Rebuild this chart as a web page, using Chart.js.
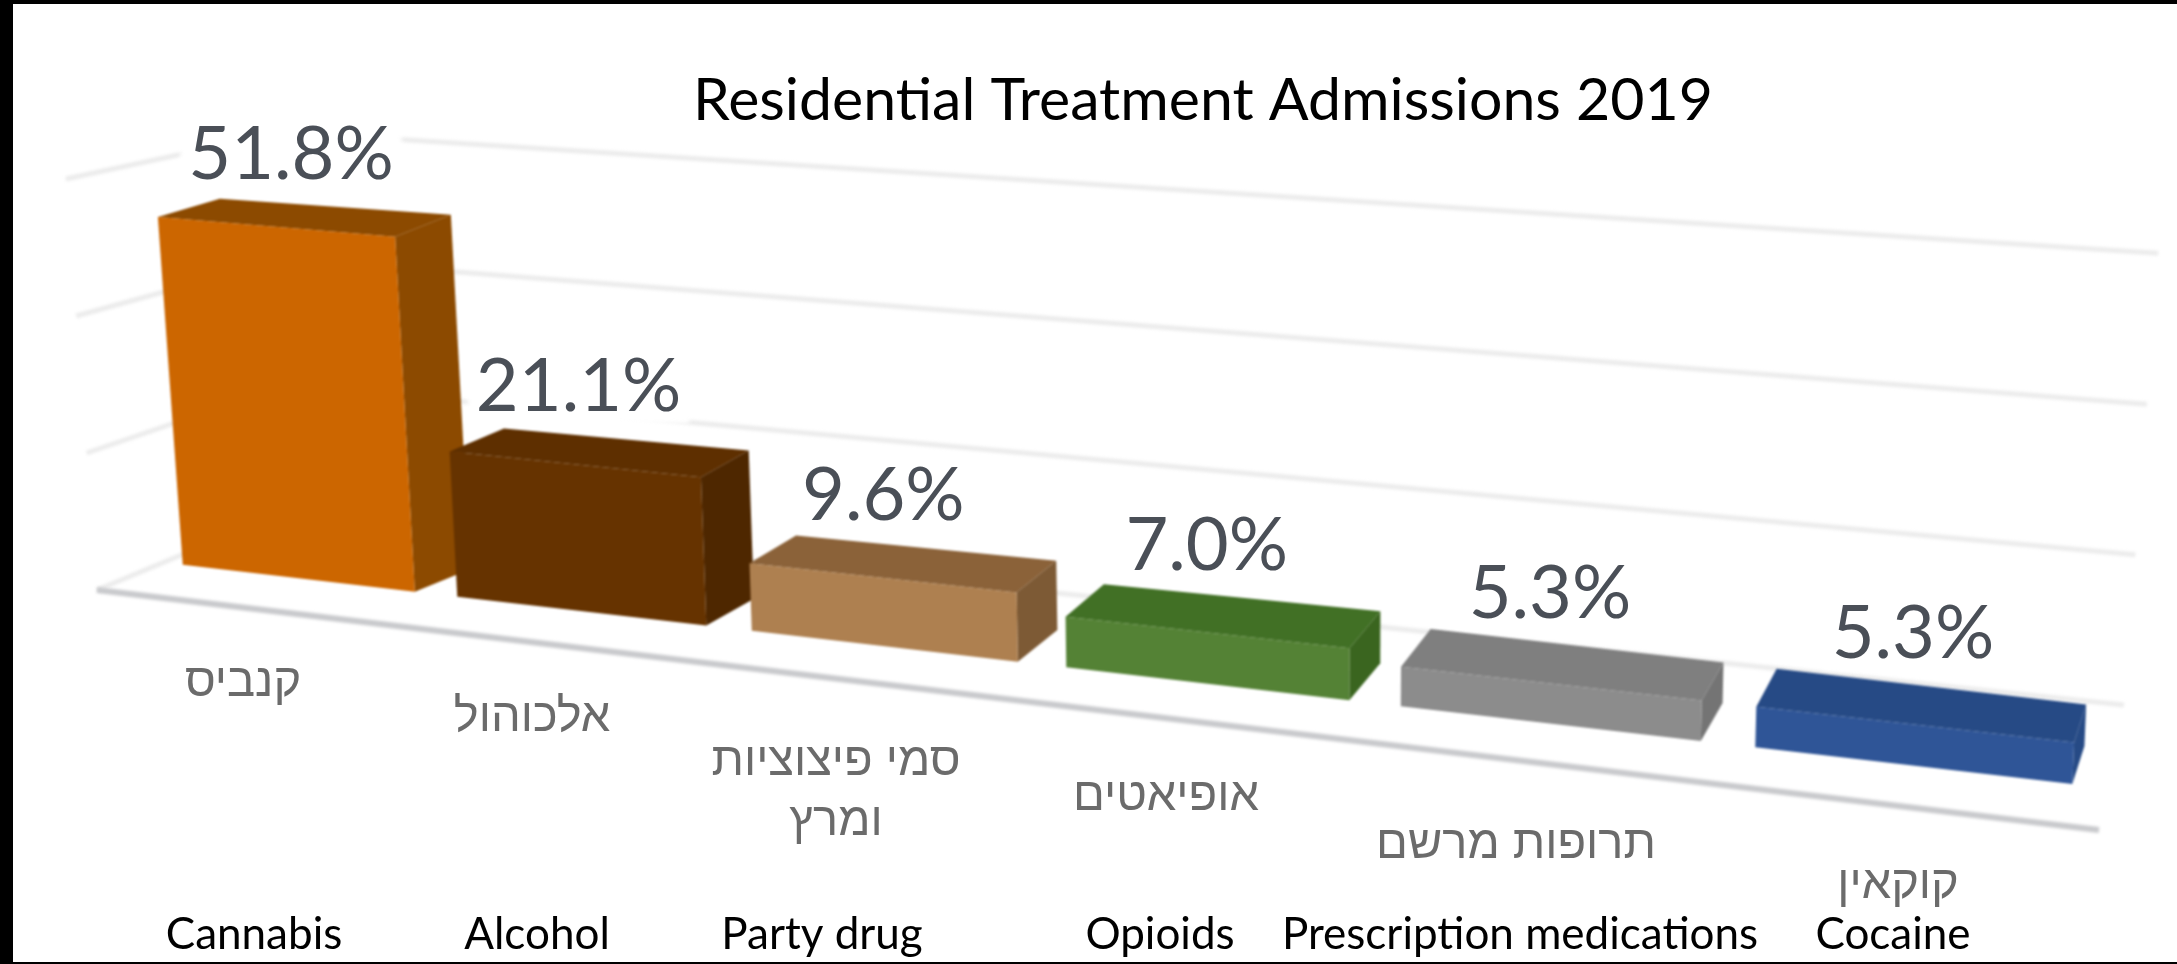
<!DOCTYPE html>
<html>
<head>
<meta charset="utf-8">
<title>Residential Treatment Admissions 2019</title>
<script src="https://cdn.jsdelivr.net/npm/chart.js@4"></script>
<style>
    html, body { margin: 0; padding: 0; background: #fff; overflow: hidden; }
    #frame {
        position: absolute; left: 0; top: 0; width: 2177px; height: 964px; box-sizing: border-box;
        border-left: 13px solid #000; border-top: 4px solid #000; border-bottom: 2px solid #000;
        pointer-events: none;
    }
</style>
</head>
<body>
<canvas id="admissionsChart" width="2177" height="964" style="display:block"></canvas>
<div id="frame"></div>
<script>
// Chart data
const categories = ['Cannabis', 'Alcohol', 'Party drug', 'Opioids', 'Prescription medications', 'Cocaine'];
const hebrewLabels = [['קנביס'], ['אלכוהול'], ['סמי פיצוציות', 'ומרץ'], ['אופיאטים'], ['תרופות מרשם'], ['קוקאין']];
const admissions = [51.8, 21.1, 9.6, 7.0, 5.3, 5.3];
const gridStep = 20;
const axisMax = 60;

// Face colours
const frontColors = ['#cc6600', '#663300', '#ae8050', '#548235', '#8c8c8c', '#2f5597'];
const topColors = ['#8c4a00', '#5e2f00', '#8b6239', '#417025', '#7f7f7f', '#264a85'];
const sideColors = ['#8c4a00', '#4e2700', '#7d5a35', '#3a651f', '#747474', '#264a85'];

// Where the axis texts sit
const englishCentres = [254, 537, 822, 1160, 1520, 1893];
const hebrewCentres = [243, 532, 836, 1166, 1516, 1898];
const hebrewRows = [683, 718, 762, 797, 845, 885];
const englishRow = 935;
const hebrewLineGap = 60;

// Perspective: turns chart pixels into the tilted front plane of the bars
function frontPoint(chart, px, py) {
    const xs = chart.scales.x, ys = chart.scales.y;
    const t = (px - xs.getPixelForTick(0)) / (xs.getPixelForTick(1) - xs.getPixelForTick(0));
    const v = ys.getValueForPixel(py);
    const floorX = 297 + 273 * t + 10 * t * t;
    const floorY = 565 + 0.116 * (floorX - 184);
    return {
        x: floorX + v * 0.00043 * (floorX - 1300),
        y: floorY - 6.85 * v - 0.0006 * v * (floorX - 411)
    };
}

// Same point pushed back by the depth of the bar
function backPoint(p) {
    return {
        x: p.x + 66 - 0.026 * p.x,
        y: p.y - Math.min(38, 16 + 0.0155 * p.x)
    };
}

// Back wall gridline height at a screen x
function wallY(x, v) {
    return 593 + (0.105 - 0.00067 * v) * (x - 1057) - 6.85 * v;
}

function face(ctx, points, color) {
    ctx.fillStyle = color;
    ctx.beginPath();
    points.forEach((p, i) => i ? ctx.lineTo(p.x, p.y) : ctx.moveTo(p.x, p.y));
    ctx.closePath();
    ctx.fill();
}

function drawGrid(chart, ctx) {
    ctx.save();
    ctx.filter = 'blur(1.5px)';
    ctx.strokeStyle = '#ececec';
    ctx.lineWidth = 5;
    const cornerX = 285;
    chart.scales.y.ticks.forEach(tick => {
        const v = tick.value;
        const rightX = 2124 + 0.57 * v;
        ctx.beginPath();
        ctx.moveTo(97 - 0.52 * v, 590 - 6.85 * v);
        ctx.lineTo(cornerX, wallY(cornerX, v));
        ctx.lineTo(rightX, wallY(rightX, v));
        ctx.stroke();
    });
    // front edge of the floor
    ctx.strokeStyle = '#c8c9cc';
    ctx.lineWidth = 6;
    ctx.beginPath();
    ctx.moveTo(97, 590);
    ctx.lineTo(2099, 830);
    ctx.stroke();
    ctx.restore();
}

function barCorners(chart, bar) {
    const half = bar.width / 2;
    const fbl = frontPoint(chart, bar.x - half, bar.base);
    const fbr = frontPoint(chart, bar.x + half, bar.base);
    const ftl = frontPoint(chart, bar.x - half, bar.y);
    const ftr = frontPoint(chart, bar.x + half, bar.y);
    return { fbl, fbr, ftl, ftr, btl: backPoint(ftl), btr: backPoint(ftr), bbr: backPoint(fbr) };
}

const labelFont = '74px Lato';

const bars3d = {
    id: 'bars3d',
    beforeDatasetsDraw(chart) {
        const ctx = chart.ctx;
        const bars = chart.getDatasetMeta(0).data;
        drawGrid(chart, ctx);

        // value labels hide the wall lines behind them
        ctx.save();
        ctx.font = labelFont;
        ctx.textAlign = 'center';
        ctx.textBaseline = 'middle';
        const labelSpots = bars.map((bar, i) => {
            const c = barCorners(chart, bar);
            return { x: (c.fbl.x + c.fbr.x) / 2 - 0.15 * admissions[i], y: (c.btl.y + c.btr.y) / 2 - 52 };
        });
        ctx.filter = 'blur(2px)';
        ctx.fillStyle = '#fff';
        labelSpots.forEach((s, i) => {
            const w = ctx.measureText(admissions[i].toFixed(1) + '%').width;
            ctx.fillRect(s.x - w / 2 - 8, s.y - 36, w + 16, 72);
        });
        ctx.restore();

        // faces go on a spare canvas first so the soft edges do not show seams
        const spare = document.createElement('canvas');
        spare.width = chart.width;
        spare.height = chart.height;
        const sctx = spare.getContext('2d');
        bars.forEach((bar, i) => {
            const c = barCorners(chart, bar);
            face(sctx, [c.ftl, c.btl, c.btr, c.ftr], topColors[i]);
            face(sctx, [c.ftr, c.btr, c.bbr, c.fbr], sideColors[i]);
            face(sctx, [c.fbl, c.fbr, c.ftr, c.ftl], frontColors[i]);
        });
        ctx.save();
        ctx.filter = 'blur(1px)';
        ctx.drawImage(spare, 0, 0);
        ctx.restore();

        ctx.save();
        ctx.font = labelFont;
        ctx.textAlign = 'center';
        ctx.textBaseline = 'middle';
        ctx.fillStyle = '#4a4f57';
        labelSpots.forEach((s, i) => ctx.fillText(admissions[i].toFixed(1) + '%', s.x, s.y));
        ctx.restore();

        return false; // the plain flat rectangles are not wanted
    },
    afterDraw(chart) {
        const ctx = chart.ctx;
        ctx.save();
        ctx.textAlign = 'center';
        ctx.textBaseline = 'middle';
        ctx.fillStyle = '#000';
        ctx.font = '44px Lato';
        chart.data.labels.forEach((label, i) => ctx.fillText(label, englishCentres[i], englishRow));

        ctx.direction = 'rtl';
        ctx.fillStyle = '#6b6b6b';
        ctx.font = '47px "Liberation Sans"';
        ctx.filter = 'blur(0.6px)';
        hebrewLabels.forEach((lines, i) => {
            lines.forEach((line, j) => ctx.fillText(line, hebrewCentres[i], hebrewRows[i] + j * hebrewLineGap));
        });
        ctx.restore();
    }
};

new Chart(document.getElementById('admissionsChart').getContext('2d'), {
    type: 'bar',
    data: {
        labels: categories,
        datasets: [{
            label: 'Admissions',
            data: admissions,
            backgroundColor: frontColors,
            categoryPercentage: 1,
            barPercentage: 0.85
        }]
    },
    options: {
        responsive: false,
        animation: false,
        devicePixelRatio: 1,
        layout: { padding: { left: 229, top: 66, bottom: 100 } },
        plugins: {
            legend: { display: false },
            tooltip: { enabled: false },
            title: {
                display: true,
                text: 'Residential Treatment Admissions 2019',
                fullSize: false,
                color: '#000',
                font: { family: 'Lato', size: 59, weight: 'normal' },
                padding: 0
            }
        },
        scales: {
            x: { display: false, grid: { display: false } },
            y: { display: false, min: 0, max: axisMax, ticks: { stepSize: gridStep }, grid: { display: false } }
        }
    },
    plugins: [bars3d]
});
</script>
</body>
</html>
